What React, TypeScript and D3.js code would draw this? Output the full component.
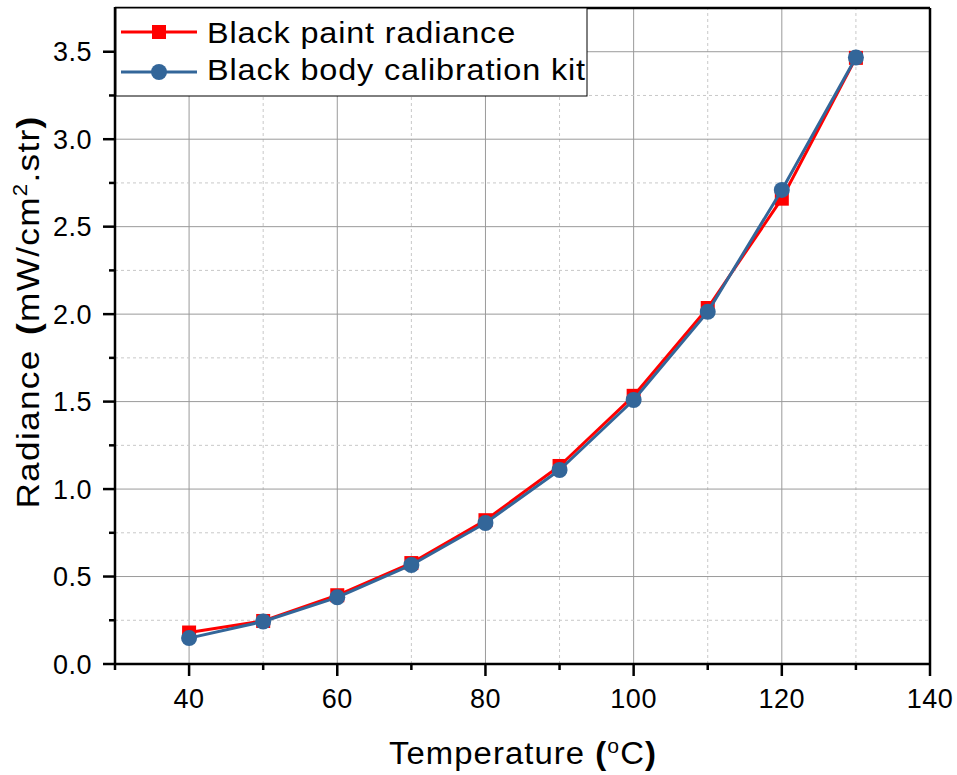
import React, { useEffect, useRef } from 'react';
import * as d3 from 'd3';

// temperatures (°C)
const temps = [40, 50, 60, 70, 80, 90, 100, 110, 120, 130];
// black paint radiance (mW/cm2.str)
const paintValues = [0.18, 0.246, 0.393, 0.577, 0.822, 1.132, 1.533, 2.035, 2.66, 3.465];
// black body calibration kit
const kitValues = [0.148, 0.243, 0.381, 0.566, 0.806, 1.109, 1.509, 2.013, 2.71, 3.467];

const xMajorTicks = [40, 60, 80, 100, 120, 140];
const xMinorTicks = [30, 50, 70, 90, 110, 130];
const yMajorTicks = [0, 0.5, 1.0, 1.5, 2.0, 2.5, 3.0, 3.5];
const yMinorTicks = [0.25, 0.75, 1.25, 1.75, 2.25, 2.75, 3.25];

const seriesNames = ['Black paint radiance', 'Black body calibration kit'];
const RED = '#ff0000';
const BLUE = '#336699';

const App = () => {
  const ref = useRef<SVGSVGElement | null>(null);

  useEffect(() => {
    const W = 957;
    const H = 775;
    const margin = { top: 8, right: 27, bottom: 111, left: 115 };
    const svg = d3.select(ref.current);
    svg.selectAll('*').remove();
    svg.attr('width', W).attr('height', H);

    const font = 'Arial, "Liberation Sans", sans-serif';

    const x = d3.scaleLinear().domain([30, 140]).range([margin.left, W - margin.right]);
    const y = d3.scaleLinear().domain([0, 3.75]).range([H - margin.bottom, margin.top]);
    const [x0, x1] = x.range();
    const [y0, y1] = y.range();

    // grid
    const grid = svg.append('g');
    grid.selectAll('line.vmaj').data(xMajorTicks.filter(d => d > 30 && d < 140)).enter().append('line')
      .attr('x1', d => x(d)).attr('x2', d => x(d)).attr('y1', y0).attr('y2', y1)
      .attr('stroke', '#9a9a9a').attr('stroke-width', 1);
    grid.selectAll('line.vmin').data(xMinorTicks.filter(d => d > 30)).enter().append('line')
      .attr('x1', d => x(d)).attr('x2', d => x(d)).attr('y1', y0).attr('y2', y1)
      .attr('stroke', '#c8c8c8').attr('stroke-width', 1).attr('stroke-dasharray', '3,3');
    grid.selectAll('line.hmaj').data(yMajorTicks.filter(d => d > 0)).enter().append('line')
      .attr('x1', x0).attr('x2', x1).attr('y1', d => y(d)).attr('y2', d => y(d))
      .attr('stroke', '#9a9a9a').attr('stroke-width', 1);
    grid.selectAll('line.hmin').data(yMinorTicks).enter().append('line')
      .attr('x1', x0).attr('x2', x1).attr('y1', d => y(d)).attr('y2', d => y(d))
      .attr('stroke', '#c8c8c8').attr('stroke-width', 1).attr('stroke-dasharray', '3,3');

    // frame
    svg.append('line').attr('x1', x0).attr('x2', x1).attr('y1', y1).attr('y2', y1)
      .attr('stroke', '#000').attr('stroke-width', 2.5);
    svg.append('line').attr('x1', x1).attr('x2', x1).attr('y1', y1).attr('y2', y0)
      .attr('stroke', '#000').attr('stroke-width', 2.5);

    // x axis
    const xAxis = svg.append('g').attr('transform', `translate(0,${y0})`);
    xAxis.append('line').attr('x1', x0 - 1).attr('x2', x1 + 1).attr('stroke', '#000').attr('stroke-width', 2.5);
    xAxis.selectAll('line.maj').data(xMajorTicks).enter().append('line')
      .attr('x1', d => x(d)).attr('x2', d => x(d)).attr('y1', 0).attr('y2', 12)
      .attr('stroke', '#000').attr('stroke-width', 2.5);
    xAxis.selectAll('line.min').data(xMinorTicks).enter().append('line')
      .attr('x1', d => x(d)).attr('x2', d => x(d)).attr('y1', 0).attr('y2', 6)
      .attr('stroke', '#000').attr('stroke-width', 2.5);
    xAxis.selectAll('text').data(xMajorTicks).enter().append('text')
      .attr('x', d => x(d)).attr('y', 44).attr('text-anchor', 'middle')
      .style('font-family', font).style('font-size', '27px').style('letter-spacing', '0.5px').text(d => d);

    // y axis
    const yAxis = svg.append('g').attr('transform', `translate(${x0},0)`);
    yAxis.append('line').attr('y1', y0 + 1).attr('y2', y1 - 1).attr('stroke', '#000').attr('stroke-width', 2.5);
    yAxis.selectAll('line.maj').data(yMajorTicks).enter().append('line')
      .attr('x1', -12).attr('x2', 0).attr('y1', d => y(d)).attr('y2', d => y(d))
      .attr('stroke', '#000').attr('stroke-width', 2.5);
    yAxis.selectAll('line.min').data(yMinorTicks).enter().append('line')
      .attr('x1', -6).attr('x2', 0).attr('y1', d => y(d)).attr('y2', d => y(d))
      .attr('stroke', '#000').attr('stroke-width', 2.5);
    yAxis.selectAll('text').data(yMajorTicks).enter().append('text')
      .attr('x', -23).attr('y', d => y(d) + 9.5).attr('text-anchor', 'end')
      .style('font-family', font).style('font-size', '27px').style('letter-spacing', '0.5px').text(d => d.toFixed(1));

    // axis titles
    const xt = svg.append('text').attr('transform', 'translate(523,764) scale(1.06,1)').attr('text-anchor', 'middle')
      .style('font-family', font).style('font-size', '31px').style('letter-spacing', '1px');
    xt.append('tspan').text('Temperature ');
    xt.append('tspan').style('font-weight', 'bold').text('(');
    xt.append('tspan').attr('dy', -11).style('font-size', '20px').text('o');
    xt.append('tspan').attr('dy', 11).text('C');
    xt.append('tspan').style('font-weight', 'bold').text(')');

    const yt = svg.append('text').attr('transform', `translate(39,312) rotate(-90) scale(1.1,1)`)
      .attr('text-anchor', 'middle').style('font-family', font).style('font-size', '32px')
      .style('letter-spacing', '1.2px').style('word-spacing', '3px');
    yt.append('tspan').text('Radiance ');
    yt.append('tspan').style('font-weight', 'bold').text('(');
    yt.append('tspan').text('mW/cm');
    yt.append('tspan').attr('dy', -12).style('font-size', '20px').text('2');
    yt.append('tspan').attr('dy', 12).text('.str');
    yt.append('tspan').style('font-weight', 'bold').text(')');

    // series
    const line = d3.line<number>().x((_, i) => x(temps[i])).y(d => y(d));
    const plot = svg.append('g');
    plot.append('path').datum(paintValues).attr('d', line).attr('fill', 'none')
      .attr('stroke', RED).attr('stroke-width', 3).attr('stroke-linejoin', 'round');
    plot.selectAll('rect').data(paintValues).enter().append('rect')
      .attr('x', (_, i) => x(temps[i]) - 7).attr('y', d => y(d) - 7)
      .attr('width', 14).attr('height', 14).attr('fill', RED);
    plot.append('path').datum(kitValues).attr('d', line).attr('fill', 'none')
      .attr('stroke', BLUE).attr('stroke-width', 3).attr('stroke-linejoin', 'round');
    plot.selectAll('circle').data(kitValues).enter().append('circle')
      .attr('cx', (_, i) => x(temps[i])).attr('cy', d => y(d)).attr('r', 8).attr('fill', BLUE);

    // legend
    const lg = svg.append('g');
    lg.append('rect').attr('x', 116).attr('y', 8).attr('width', 471).attr('height', 88)
      .attr('fill', '#fff').attr('stroke', '#000').attr('stroke-width', 1);
    const rows = [32, 72];
    const baselines = [43, 80];
    [RED, BLUE].forEach((c, i) => {
      lg.append('line').attr('x1', 121).attr('x2', 197).attr('y1', rows[i]).attr('y2', rows[i])
        .attr('stroke', c).attr('stroke-width', 3);
      if (i === 0) {
        lg.append('rect').attr('x', 152).attr('y', rows[i] - 7).attr('width', 14).attr('height', 14).attr('fill', c);
      } else {
        lg.append('circle').attr('cx', 159).attr('cy', rows[i]).attr('r', 8).attr('fill', c);
      }
      lg.append('text').attr('transform', `translate(207,${baselines[i]}) scale(1.08,1)`)
        .style('font-family', font).style('font-size', '30px')
        .style('letter-spacing', '0.8px').text(seriesNames[i]);
    });
  }, []);

  return <svg ref={ref} style={{ position: 'absolute', left: 0, top: 0, background: '#fff' }} />;
};

export default App;
